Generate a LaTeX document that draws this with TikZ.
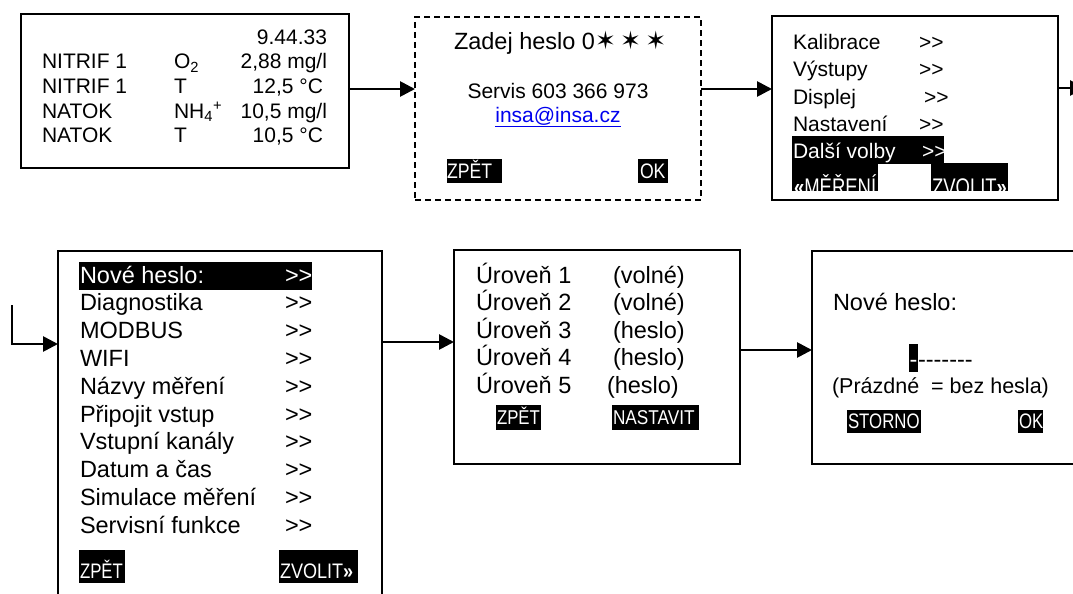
\documentclass[tikz,border=0pt]{standalone}
\usepackage{fontspec}
\usepackage{graphicx}
\setmainfont{Liberation Sans}
\newfontfamily\djv{DejaVu Sans}
\usetikzlibrary{arrows.meta,calc}
\definecolor{linkblue}{RGB}{0,0,238}
\newcommand{\nrw}[2]{\scalebox{#1}[1]{#2}}
\newcommand{\gtgt}{>{}>}
\begin{document}
\begin{tikzpicture}[x=1pt,y=-1pt,
  box/.style={draw=black,line width=1.7pt,inner sep=0pt,outer sep=0pt},
  dbox/.style={box,dash pattern=on 6pt off 4pt},
  arr/.style={line width=2.7pt,-{Triangle[length=15pt,width=15pt]}},
  txt/.style={inner sep=0pt,outer sep=0pt,anchor=base west},
  txr/.style={inner sep=0pt,outer sep=0pt,anchor=base east},
  txc/.style={inner sep=0pt,outer sep=0pt,anchor=base},
  fa/.style={font=\fontsize{21}{25}\selectfont},
  fb/.style={font=\fontsize{23.5}{28}\selectfont},
  wt/.style={text=white},
  btn/.style={fill=black}
]
\useasboundingbox (0,0) rectangle (1073,594);

% boxes
\node[box,minimum width=328pt,minimum height=154pt] (b1) at (185,91) {};
\node[dbox,minimum width=286pt,minimum height=183pt] (b2) at (558,108.5) {};
\node[box,minimum width=286pt,minimum height=184pt] (b3) at (915,108) {};
\node[box,minimum width=324pt,minimum height=349pt] (b4) at (220,425.5) {};
\node[box,minimum width=286pt,minimum height=214pt] (b5) at (597,357) {};
\node[box,minimum width=280pt,minimum height=213pt] (b6) at (952,357.5) {};

% connector helpers
\coordinate (r1) at (0,89);
\coordinate (r3) at (0,88);
\coordinate (r4) at (0,344);
\coordinate (r5) at (0,342);
\coordinate (r6) at (0,350);
\coordinate (s4) at (12,305);
\coordinate (e3) at (1085,88);

\draw[arr] (b1.east |- r1) -- (b2.west |- r1);
\draw[arr] (b2.east |- r1) -- (b3.west |- r1);
\draw[arr] (b3.east |- r3) -- (e3);
\draw[arr] (s4) |- (b4.west |- r4);
\draw[arr] (b4.east |- r5) -- (b5.west |- r5);
\draw[arr] (b5.east |- r6) -- (b6.west |- r6);

% box 1
\node[txr,fa] (t10) at (327,45) {9.44.33};
\node[txt,fa] (t11a) at (42,69) {NITRIF 1};
\node[txt,fa] (t11b) at (174,69) {O\textsubscript{2}};
\node[txr,fa] (t11c) at (327,69) {2,88 mg/l};
\node[txt,fa] (t12a) at (42,93.5) {NITRIF 1};
\node[txt,fa] (t12b) at (174,93.5) {T};
\node[txr,fa] (t12c) at (323,93.5) {12,5 °C};
\node[txt,fa] (t13a) at (42,118) {NATOK};
\node[txt,fa] (t13b) at (174,118) {NH\textsubscript{4}\textsuperscript{+}};
\node[txr,fa] (t13c) at (327,118) {10,5 mg/l};
\node[txt,fa] (t14a) at (42,142.5) {NATOK};
\node[txt,fa] (t14b) at (174,142.5) {T};
\node[txr,fa] (t14c) at (323,142.5) {10,5 °C};

% box 2
\node[txt,fb] (t20) at (454,50) {Zadej heslo 0{\djv\fontsize{25}{28}\selectfont ✶\,✶\,✶}};
\node[txc,fa] (t21) at (558,99) {Servis 603 366 973};
\node[txc,fa,text=linkblue] (t22) at (558,122) {\underline{insa@insa.cz}};
\fill[btn] (447,159) rectangle (502,183);
\node[txt,fa,wt] (t23) at (447,178) {\nrw{0.84}{ZPĚT}};
\fill[btn] (638,159) rectangle (668,183);
\node[txt,fa,wt] (t24) at (640,178) {\nrw{0.84}{OK}};

% box 3
\node[txt,fa] (t31a) at (793,49) {Kalibrace};
\node[txt,fa] (t31b) at (919,49) {\gtgt};
\node[txt,fa] (t32a) at (793,77) {Výstupy};
\node[txt,fa] (t32b) at (919,77) {\gtgt};
\node[txt,fa] (t33a) at (793,104) {Displej};
\node[txt,fa] (t33b) at (924,104) {\gtgt};
\node[txt,fa] (t34a) at (793,131) {Nastavení};
\node[txt,fa] (t34b) at (919,131) {\gtgt};
\fill[btn] (792,136) rectangle (944,163.5);
\node[txt,fa,wt] (t35a) at (793,158) {Další volby};
\node[txt,fa,wt] (t35b) at (922,158) {\gtgt};
\fill[btn] (792,163) rectangle (878,191);
\fill[btn] (931,163) rectangle (1008,191);
\begin{scope}
\clip (780,163) rectangle (1020,191);
\node[txt,font=\fontsize{24}{28}\selectfont,wt] (t36a) at (794,195) {\nrw{0.77}{{\bfseries «}MĚŘENÍ}};
\node[txt,font=\fontsize{24}{28}\selectfont,wt] (t36b) at (932,195) {\nrw{0.77}{ZVOLIT{\bfseries »}}};
\end{scope}

% box 4
\fill[btn] (79,262) rectangle (312,290);
\node[txt,fb,wt] (t40a) at (80,283) {Nové heslo:};
\node[txt,fb,wt] (t40b) at (285,283) {\gtgt};
\node[txt,fb] (t41a) at (80,310.8) {Diagnostika};
\node[txt,fb] (t41b) at (285,310.8) {\gtgt};
\node[txt,fb] (t42a) at (80,338.6) {MODBUS};
\node[txt,fb] (t42b) at (285,338.6) {\gtgt};
\node[txt,fb] (t43a) at (80,366.4) {WIFI};
\node[txt,fb] (t43b) at (285,366.4) {\gtgt};
\node[txt,fb] (t44a) at (80,394.2) {Názvy měření};
\node[txt,fb] (t44b) at (285,394.2) {\gtgt};
\node[txt,fb] (t45a) at (80,422) {Připojit vstup};
\node[txt,fb] (t45b) at (285,422) {\gtgt};
\node[txt,fb] (t46a) at (80,449.8) {Vstupní kanály};
\node[txt,fb] (t46b) at (285,449.8) {\gtgt};
\node[txt,fb] (t47a) at (80,477.6) {Datum a čas};
\node[txt,fb] (t47b) at (285,477.6) {\gtgt};
\node[txt,fb] (t48a) at (80,505.4) {Simulace měření};
\node[txt,fb] (t48b) at (285,505.4) {\gtgt};
\node[txt,fb] (t49a) at (80,533.2) {Servisní funkce};
\node[txt,fb] (t49b) at (285,533.2) {\gtgt};
\fill[btn] (79,550) rectangle (125,583);
\node[txt,fa,wt] (t4z) at (80,578) {\nrw{0.8}{ZPĚT}};
\fill[btn] (279,550) rectangle (358,583);
\node[txt,fa,wt] (t4v) at (280,578) {\nrw{0.86}{ZVOLIT{\bfseries »}}};

% box 5
\node[txt,fb] (t51a) at (476,283) {Úroveň 1};
\node[txt,fb] (t51b) at (613,283) {(volné)};
\node[txt,fb] (t52a) at (476,310.5) {Úroveň 2};
\node[txt,fb] (t52b) at (613,310.5) {(volné)};
\node[txt,fb] (t53a) at (476,338) {Úroveň 3};
\node[txt,fb] (t53b) at (613,338) {(heslo)};
\node[txt,fb] (t54a) at (476,365.5) {Úroveň 4};
\node[txt,fb] (t54b) at (613,365.5) {(heslo)};
\node[txt,fb] (t55a) at (476,393) {Úroveň 5};
\node[txt,fb] (t55b) at (607,393) {(heslo)};
\fill[btn] (496,405) rectangle (541,430);
\node[txt,font=\fontsize{20}{24}\selectfont,wt] (t56a) at (497,424) {\nrw{0.84}{ZPĚT}};
\fill[btn] (612,405) rectangle (699,430);
\node[txt,font=\fontsize{20}{24}\selectfont,wt] (t56b) at (613,424) {\nrw{0.86}{NASTAVIT}};

% box 6
\node[txt,fb] (t61) at (833,310) {Nové heslo:};
\fill[btn] (909,344) rectangle (918,372);
\node[txt,fb,wt] (t62a) at (909.5,367) {-};
\node[txt,fb] (t62b) at (918,367) {-{}-{}-{}-{}-{}-{}-};
\node[txt,font=\fontsize{21.5}{26}\selectfont] (t63) at (832,393) {(Prázdné\ \ = bez hesla)};
\fill[btn] (847,410) rectangle (921,433);
\node[txt,fa,wt] (t64a) at (848,428) {\nrw{0.8}{STORNO}};
\fill[btn] (1018,410) rectangle (1043,433);
\node[txt,fa,wt] (t64b) at (1019,428) {\nrw{0.8}{OK}};
\end{tikzpicture}
\end{document}
